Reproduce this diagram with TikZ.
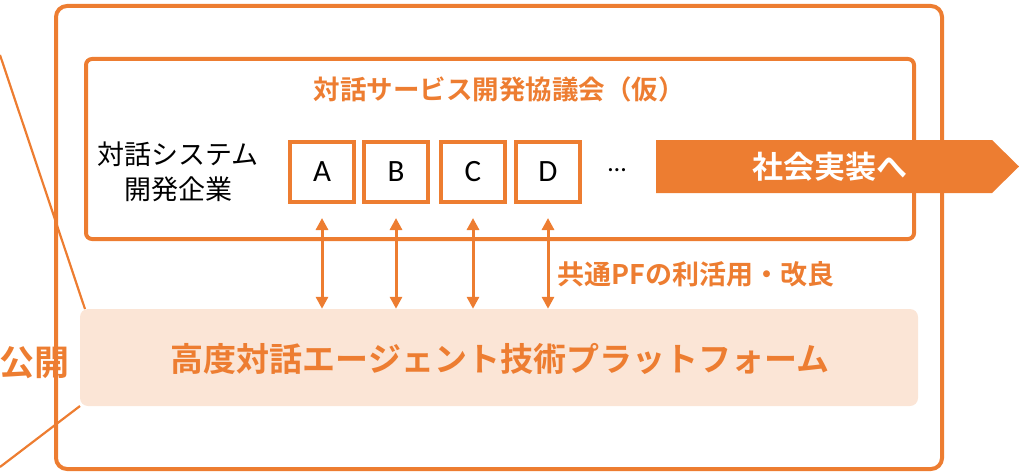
\documentclass[tikz,border=0pt]{standalone}
\usepackage{fontspec}
\setmainfont{Carlito}
\newfontfamily\jp{Noto Sans CJK JP}
\newfontfamily\jpb{Noto Sans CJK JP Bold}
\usetikzlibrary{arrows.meta}
\definecolor{org}{HTML}{ED7D31}
\definecolor{peach}{HTML}{FBE5D6}
\tikzset{
  frame/.style={draw=org, line width=4pt},
  letterbox/.style={draw=org, line width=4pt, minimum width=64pt, minimum height=60pt, inner sep=0pt, font=\fontsize{31}{33}\selectfont, text=black},
  dbl/.style={draw=org, line width=3pt, {Triangle[length=12pt,width=12pt]}-{Triangle[length=12pt,width=12pt]}},
  diag/.style={draw=org, line width=2.2pt},
}
\begin{document}
\begin{tikzpicture}[x=1pt,y=-1pt]
\useasboundingbox (0,0) rectangle (1019,476);
% outer and inner frames
\draw[frame, rounded corners=11pt] (56,6) rectangle (942,469);
\draw[frame, rounded corners=6pt] (86,59) rectangle (914,239);
% title
\node[text=org, font=\jpb\fontsize{26.5}{28}\selectfont] (title) at (499,89) {対話サービス開発協議会（仮）};
% left text
\node[align=center, font=\jp\fontsize{27}{35}\selectfont, text=black] (firms) at (178,172) {対話システム\\開発企業};
% boxes
\node[letterbox] (A) at (322,172) {A};
\node[letterbox] (B) at (396,172) {B};
\node[letterbox] (C) at (473,172) {C};
\node[letterbox] (D) at (548,172) {D};
\node[font=\fontsize{26}{28}\selectfont, text=black] (dots) at (617,170) {…};
% big arrow
\fill[org] (656,140) -- (992,140) -- (1019,166.5) -- (992,193) -- (656,193) -- cycle;
\node[text=white, font=\jpb\fontsize{31}{33}\selectfont] (impl) at (830,167) {社会実装へ};
% platform
\node[fill=peach, rounded corners=8pt, minimum width=838pt, minimum height=97pt, inner sep=0pt] (plat) at (499,357.5) {};
\node[text=org, font=\jpb\fontsize{33}{35}\selectfont] (plattext) at (500,359) {高度対話エージェント技術プラットフォーム};
% double arrows
\foreach \n in {A,B,C,D}{
  \draw[dbl] ([yshift=-14pt]\n.south) -- ([yshift=0pt]\n.south |- plat.north);
}
\node[text=org, font=\jpb\fontsize{27}{29}\selectfont, anchor=west, inner sep=0pt] (use) at (557,274) {共通PFの利活用・改良};
% public
\node[text=org, font=\jpb\fontsize{35}{37}\selectfont, anchor=west, inner sep=0pt] (pub) at (-1,363) {公開};
% diagonal lines
\coordinate (d1s) at (0,55);
\coordinate (d1e) at (85,309);
\coordinate (d2s) at (80,406);
\coordinate (d2e) at (0,467);
\draw[diag] (d1s) -- (d1e);
\draw[diag] (d2s) -- (d2e);
\end{tikzpicture}
\end{document}
